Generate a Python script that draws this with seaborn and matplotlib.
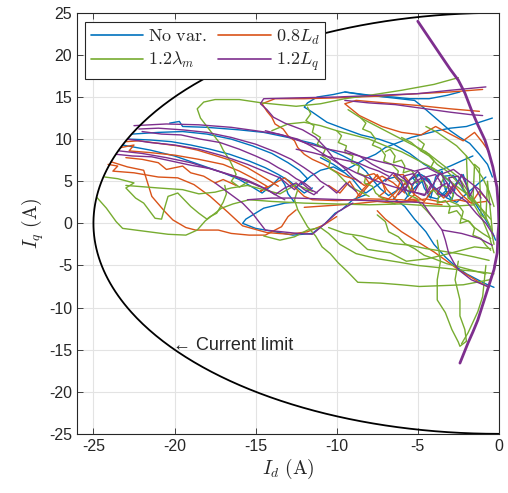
import numpy as np
import pandas as pd
import matplotlib
matplotlib.use("Agg")
import matplotlib.pyplot as plt
import seaborn as sns
from matplotlib.lines import Line2D

# current trajectories (Id, Iq) in A, one list per pass
novar_id = [
    [-22.6, -21.0, -19.5, -18.0, -16.5, -15.2, -14.0, -13.0, -12.3, -11.8, -12.2, -11.6, -11.0, -10.2, -9.5, -9.0, -8.5, -8.2, -7.6, -7.0, -6.4, -6.0, -5.5, -5.0, -4.5, -4.0, -3.5, -3.0, -2.5, -2.2, -1.8],
    [-20.3, -19.7, -19.5, -18.0, -16.0, -14.5, -13.0, -11.5, -10.5, -9.6, -8.8, -8.2, -7.8, -7.3, -6.8, -6.2, -5.6, -5.0, -4.4, -3.8, -3.2, -2.6, -2.0, -1.4, -0.8],
    [-23.2, -21.5, -20.0, -18.5, -17.0, -16.0, -15.2, -14.6, -14.0, -13.5, -13.2, -13.0, -12.6, -13.2, -14.5, -15.6, -15.8, -15.0, -14.4, -12.7, -11.5, -10.7, -10.1, -9.7, -9.0, -8.2],
    [-2.4, -3.2, -4.3, -5.5, -6.5, -7.5, -8.5, -9.5, -10.2, -11.2, -11.8, -12.0, -11.5, -10.6, -9.5, -8.5, -7.4, -6.5, -5.5, -4.6, -3.8, -3.0, -2.2, -1.6],
    [-9.5, -7.5, -5.2, -4.8, -4.2, -3.6, -3.0, -2.4, -1.8, -1.2, -0.7, -0.4],
    [-6.5, -5.8, -5.2, -4.5, -4.0, -3.3, -2.9, -2.6, -2.0, -1.4, -0.8, -0.3],
    [-6.0, -5.6, -5.2, -4.9, -4.6, -4.2, -3.9, -3.5, -3.3, -2.9, -2.6, -2.2, -1.8, -1.4, -1.0, -0.5, -0.2],
    [-11.0, -10.2, -9.6, -9.0, -8.3, -7.6, -7.0, -6.2, -5.4, -4.6, -3.8, -3.0, -2.0, -1.2, -0.4],
    [-22.8, -21.5, -20.2, -19.0, -17.8, -16.6, -15.4, -14.4, -13.6, -12.9, -12.4, -12.0, -11.5],
    [-5.8, -5.4, -5.0, -5.3, -4.8, -4.3, -4.0, -4.4, -3.8, -3.3, -3.0, -3.4, -2.8, -2.4],
]
novar_iq = [
    [10.6, 10.8, 10.9, 10.6, 10.0, 9.2, 8.3, 7.2, 6.3, 5.3, 4.6, 5.6, 6.3, 6.7, 6.0, 5.2, 4.0, 3.6, 4.4, 5.2, 5.5, 4.6, 3.6, 4.5, 5.4, 4.2, 3.2, 4.0, 5.0, 4.0, 3.0],
    [11.9, 12.1, 11.5, 11.4, 11.1, 10.8, 10.2, 9.5, 8.8, 8.0, 7.2, 6.2, 5.2, 4.1, 3.3, 4.0, 5.0, 5.8, 5.0, 4.0, 3.0, 2.5, 3.5, 4.5, 5.5],
    [9.3, 8.7, 8.0, 7.0, 6.0, 5.2, 4.3, 3.6, 4.5, 5.5, 4.6, 3.5, 2.5, 2.4, 1.8, 0.5, 0.0, -0.6, -0.8, -1.4, -1.2, 0.0, 1.2, 1.6, 2.8, 3.4],
    [15.6, 15.2, 14.8, 14.8, 15.0, 15.1, 15.3, 15.6, 15.3, 15.0, 14.3, 13.8, 13.2, 12.0, 11.2, 10.5, 10.0, 9.4, 8.3, 7.0, 6.2, 6.8, 7.5, 8.0],
    [15.6, 15.1, 14.6, 14.0, 13.0, 12.0, 11.0, 10.2, 9.5, 8.2, 7.0, 5.5],
    [3.0, 2.0, 0.5, -1.0, -2.5, -4.0, -4.7, -5.2, -6.0, -6.6, -7.2, -7.6],
    [4.5, 3.2, 5.0, 6.0, 4.2, 3.0, 5.5, 6.2, 4.0, 2.8, 4.8, 5.8, 3.6, 2.2, 1.0, -0.6, -2.0],
    [7.8, 7.0, 6.2, 6.8, 7.6, 8.2, 9.0, 9.6, 10.2, 10.6, 11.0, 11.3, 11.5, 12.0, 12.5],
    [10.0, 9.9, 9.7, 9.3, 8.8, 8.2, 7.4, 6.6, 5.8, 5.0, 4.2, 3.6, 4.2],
    [2.8, 3.8, 4.6, 5.4, 5.8, 5.2, 4.0, 3.2, 2.9, 3.8, 4.9, 5.6, 5.7, 4.6],
]

ld_id = [
    [-23.3, -22.5, -22.8, -21.5, -20.0, -18.5, -17.0, -16.0, -15.0, -14.3, -14.7, -13.8, -13.2, -12.6, -12.0, -11.5, -10.0, -8.0, -6.0, -4.5, -3.5],
    [-23.9, -22.9, -21.9, -21.4, -20.6, -20.1, -19.3, -18.7, -17.3, -16.5, -15.4, -14.4, -13.4, -13.0, -12.5],
    [-24.1, -23.5, -23.8, -22.5, -21.0, -19.8, -18.8, -17.8, -16.7, -15.8, -14.3, -12.9, -11.8, -10.8, -10.0],
    [-1.0, -3.0, -5.0, -7.5, -10.0, -12.0, -13.8, -14.6, -14.3, -14.0, -13.8, -13.3, -13.0, -12.6, -12.4, -12.0, -11.5, -10.8, -10.2, -9.5, -8.8, -8.3, -7.8, -7.2, -6.5, -5.8],
    [-1.2, -3.0, -5.0, -7.0, -8.8, -9.5, -8.6, -7.2, -6.0, -4.8, -3.9, -3.0, -2.2, -1.5, -1.0, -0.6],
    [-10.5, -9.8, -9.2, -8.6, -8.0, -7.5, -6.9, -6.4, -5.8, -5.2, -4.6, -4.0, -3.4, -2.8, -2.3, -1.7, -1.2, -0.7],
    [-7.5, -7.0, -6.0, -5.0, -4.0, -3.2, -2.5, -1.8, -1.2, -0.6],
    [-12.0, -10.5, -9.0, -7.5, -6.5, -5.5, -4.5, -3.5, -2.5, -1.6, -0.8],
    [-23.0, -22.0, -21.0, -20.5, -19.5, -19.0, -18.2, -17.5, -17.0, -16.2],
    [-23.0, -22.2, -21.0, -19.8, -18.6, -17.4, -16.4, -15.5, -14.8, -14.1, -13.6],
    [-8.8, -8.4, -8.0, -8.3, -7.7, -7.2, -7.0, -7.4, -6.8, -6.3, -6.1, -6.5, -5.9, -5.4, -5.2, -5.6, -5.0],
]
ld_iq = [
    [9.0, 9.3, 8.6, 8.4, 8.1, 7.6, 7.0, 6.2, 5.2, 4.4, 3.8, 4.8, 5.4, 4.3, 3.2, 2.8, 2.7, 2.9, 2.8, 2.4, 2.2],
    [7.3, 6.7, 6.3, 3.2, 1.4, 0.4, -0.5, -0.8, -0.8, -1.2, -1.4, -1.4, -0.4, 0.8, 1.6],
    [7.0, 6.8, 6.2, 6.0, 5.5, 5.4, 4.6, 3.2, 1.3, -0.3, -1.1, -1.3, -1.0, -0.2, 0.8],
    [15.9, 15.6, 15.4, 15.1, 14.9, 14.8, 14.8, 14.2, 13.3, 12.6, 11.8, 11.2, 10.4, 9.8, 9.0, 8.2, 7.6, 7.0, 6.3, 5.6, 5.2, 4.5, 5.0, 5.6, 4.8, 3.6],
    [13.3, 13.6, 14.0, 14.3, 14.6, 14.2, 12.8, 11.5, 10.8, 10.5, 11.5, 10.6, 9.8, 10.8, 9.6, 8.5],
    [4.5, 3.6, 5.0, 3.2, 4.6, 5.8, 4.0, 3.0, 4.8, 3.4, 2.6, 4.2, 3.0, 4.6, 3.4, 2.4, 3.8, 2.8],
    [1.5, 0.5, -1.0, -2.2, -3.4, -4.5, -5.5, -6.3, -7.0, -7.6],
    [1.9, 2.1, 2.3, 2.6, 2.4, 2.6, 2.9, 2.5, 2.8, 2.4, 2.6],
    [7.8, 7.6, 7.2, 6.4, 6.8, 6.0, 5.6, 4.8, 5.2, 4.5],
    [9.7, 9.8, 9.5, 9.2, 8.7, 8.0, 7.4, 6.6, 5.8, 5.0, 4.4],
    [3.0, 4.0, 4.8, 5.6, 5.9, 5.0, 3.8, 3.2, 2.9, 3.8, 4.9, 5.7, 5.8, 4.6, 3.4, 2.8, 2.9],
]

lam_id = [
    [-2.5, -4.0, -6.0, -8.0, -9.5, -11.0, -12.5, -14.6, -16.0, -17.5, -18.2, -18.6, -18.4, -18.0, -17.6, -17.2, -17.0, -16.6, -16.4, -16.2, -16.5, -16.0, -15.4, -14.8],
    [-24.3, -23.5, -22.5, -23.0, -22.4, -21.9, -21.2, -20.8, -20.6, -20.4, -19.8, -19.5, -19.0, -18.5, -18.0, -17.8, -17.4, -17.0, -16.8, -16.9],
    [-24.8, -24.2, -23.6, -23.2, -22.0, -20.4, -19.3, -18.6, -18.1, -17.1, -16.4, -15.4, -14.0, -12.0, -10.0, -8.0, -6.0, -4.5, -3.0, -1.5],
    [-12.4, -12.6, -12.4, -11.8, -11.3, -10.9, -10.4, -9.9, -9.3, -8.7, -7.3, -6.0, -4.9, -3.5, -2.2, -0.55, -0.2],
    [-9.0, -8.1, -6.7, -5.7, -4.4, -3.5, -2.5, -1.5, -0.5],
    [-3.8, -3.6, -3.8, -3.8, -3.3, -2.9, -2.5, -2.4, -2.0, -2.1, -2.4, -2.4, -2.7, -2.5],
    [-0.8, -1.0, -1.3, -1.9, -2.3],
    [-10.0, -9.7, -9.9, -9.4, -9.5, -9.0, -9.1, -8.6, -8.7, -8.2, -8.3, -7.8, -7.6, -7.2, -6.8, -6.4],
    [-9.3, -8.5, -7.5, -6.5, -5.5, -4.5, -3.5, -2.5, -1.8, -1.0, -0.5, -0.3],
    [-11.8, -11.6, -11.9, -11.4, -11.5, -11.0, -11.2, -10.7, -10.9, -10.4, -10.5, -10.0, -9.6, -9.2, -8.6, -8.0],
    [-23.0, -21.0, -19.5, -18.5, -17.5, -16.5, -15.5, -14.5, -13.5, -12.5, -11.5],
    [-7.0, -6.7, -6.4, -6.5, -6.0, -5.8, -5.9, -5.4, -5.1, -5.2, -4.7, -4.4, -4.5, -4.0, -3.7, -3.8, -3.3, -3.0, -3.1, -2.6, -2.3, -2.4, -1.9, -1.5, -1.0, -0.5],
    [-14.0, -13.0, -12.0, -11.0, -10.0, -9.0, -8.0, -7.0, -6.0, -5.0, -4.0, -3.0, -2.0, -1.2, -0.5],
    [-14.5, -13.5, -12.6, -11.8, -11.0, -10.5, -9.8, -8.8, -7.5, -6.2, -5.0, -4.0, -3.0, -2.0, -1.0, -0.3],
    [-6.0, -5.4, -4.8, -4.3, -3.8, -3.2, -2.7, -2.2, -1.8, -1.4, -1.0, -0.6, -0.3],
    [-4.5, -3.8, -3.2, -2.6, -2.0, -1.5, -1.0, -0.6, -0.3],
    [-8.5, -8.2, -8.4, -7.9, -7.6, -7.8, -7.3, -7.0, -7.1, -6.6, -6.2, -6.3, -5.8, -5.5, -5.6, -5.1, -4.8, -4.4, -4.0],
    [-5.0, -4.6, -4.8, -4.3, -4.0, -4.2, -3.7, -3.4, -3.6, -3.1, -2.8, -3.0, -2.5, -2.2, -2.3, -1.8, -1.5, -1.6, -1.1, -0.8, -0.5],
    [-2.0, -1.9, -1.6, -1.5, -1.2, -1.1, -0.8, -0.7, -0.4],
    [-10.5, -9.5, -8.5, -7.5, -6.5, -5.5, -4.5, -3.5, -2.5, -1.5, -0.6],
    [-7.5, -7.0, -6.8, -6.2, -5.8, -5.2, -4.6, -4.0, -3.2, -2.4, -1.6, -0.8],
]
lam_iq = [
    [17.3, 16.5, 15.8, 15.2, 14.8, 14.2, 13.9, 14.3, 14.7, 14.7, 14.4, 13.6, 12.5, 11.5, 10.5, 9.5, 8.7, 7.5, 6.7, 5.8, 5.0, 4.3, 5.0, 4.4],
    [5.5, 5.3, 4.8, 4.2, 3.0, 2.4, 0.6, 0.5, 1.9, 3.2, 3.6, 3.0, 2.0, 1.2, 0.5, 0.8, 1.2, 2.5, 3.5, 4.5],
    [3.1, 1.8, 0.2, -0.6, -0.9, -1.3, -1.4, -0.8, 0.3, 1.8, 2.3, 2.8, 2.6, 2.4, 2.3, 2.2, 2.3, 2.1, 2.0, 2.2],
    [4.0, 2.8, 1.6, -0.4, -1.5, -2.8, -3.6, -4.7, -5.8, -7.0, -7.1, -7.3, -7.5, -7.4, -7.3, -6.7, -5.0],
    [-1.5, -3.1, -3.5, -4.5, -4.2, -3.8, -3.3, -2.8, -3.0],
    [-2.0, -4.5, -6.7, -9.1, -10.6, -12.6, -14.1, -14.6, -14.0, -12.6, -11.0, -9.1, -6.7, -4.5],
    [-5.0, -8.7, -10.5, -13.0, -14.3],
    [11.0, 10.4, 9.6, 9.2, 8.4, 8.0, 7.2, 6.8, 6.0, 5.6, 4.8, 4.4, 3.6, 3.0, 2.6, 2.3],
    [13.5, 12.5, 11.5, 10.5, 9.5, 8.5, 7.0, 5.5, 3.5, 1.5, -0.5, -2.5],
    [13.8, 13.0, 12.2, 11.6, 10.8, 10.2, 9.4, 8.8, 8.0, 7.4, 6.6, 6.0, 5.2, 4.4, 3.8, 3.2],
    [4.5, 4.2, 4.0, 3.5, 3.7, 4.2, 4.5, 4.0, 3.5, 4.6, 3.8],
    [8.5, 8.8, 8.0, 7.2, 7.5, 6.8, 6.0, 6.3, 5.6, 4.8, 5.1, 4.4, 3.6, 3.9, 3.2, 2.4, 2.7, 2.0, 1.2, 1.5, 0.8, 0.0, 0.3, -0.5, -1.2, -1.8],
    [11.0, 11.8, 12.0, 11.6, 11.0, 10.5, 10.0, 9.2, 8.5, 7.5, 6.5, 5.0, 3.5, 2.0, 0.5],
    [-1.5, -2.0, -1.6, -0.8, -0.5, -1.2, -2.5, -3.6, -4.2, -4.6, -5.0, -5.2, -5.4, -5.6, -5.8, -6.0],
    [10.2, 9.6, 8.6, 8.0, 7.0, 6.2, 5.2, 4.2, 3.0, 1.8, 0.4, -1.5, -3.5],
    [11.5, 10.8, 10.0, 9.2, 8.0, 6.8, 5.4, 3.8, 2.0],
    [12.5, 11.9, 11.2, 10.8, 10.0, 9.3, 8.9, 8.1, 7.4, 7.0, 6.2, 5.4, 5.0, 4.2, 3.4, 3.0, 2.2, 1.4, 0.5],
    [10.0, 9.4, 8.6, 8.2, 7.4, 6.6, 6.2, 5.4, 4.6, 4.2, 3.4, 2.6, 2.2, 1.4, 0.6, 0.2, -0.6, -1.4, -1.8, -2.6, -3.2],
    [8.0, 3.0, 2.6, 7.0, 6.5, 1.0, 0.5, 5.0, -1.0],
    [-0.5, -1.2, -1.5, -2.0, -2.4, -2.6, -3.0, -3.3, -3.6, -4.0, -4.4],
    [1.0, 0.2, -1.0, -1.6, -2.4, -3.0, -3.8, -4.2, -4.8, -5.2, -5.6, -6.0],
]

lq_id = [
    [-22.2, -21.0, -19.5, -18.0, -16.5, -15.0, -13.8, -12.8, -12.0, -11.4, -11.0, -10.5, -10.0, -9.4, -8.8],
    [-23.4, -22.0, -20.5, -19.0, -17.5, -16.2, -15.0, -14.3, -13.8, -13.2, -12.5, -12.0, -11.4, -10.8],
    [-22.9, -21.5, -20.0, -18.5, -17.0, -15.5, -14.5, -13.5, -13.0, -12.6, -12.2, -11.8, -11.2],
    [-17.5, -15.8, -15.2, -14.4, -12.4, -11.5, -10.7, -9.9, -9.0],
    [-15.5, -14.0, -12.5, -11.0, -9.5, -8.0, -6.5, -5.0, -4.7, -4.2, -3.5, -2.3, -1.2, -0.4],
    [-3.5, -3.3, -3.1, -2.8, -2.5, -2.1, -1.7, -1.2, -0.7],
    [-0.8, -3.0, -5.0, -7.5, -10.0, -12.5, -14.5, -14.7, -14.3, -13.9, -13.2, -12.1, -11.3, -10.7, -10.1, -9.5, -9.0, -8.5],
    [-9.5, -8.0, -6.4, -4.5, -3.0, -1.7, -1.0],
    [-7.0, -6.5, -6.0, -5.8, -5.5, -5.0, -4.6, -4.4, -4.0, -3.6, -3.2, -3.0, -2.6, -2.3, -2.0, -1.8, -1.5, -1.1],
    [-9.5, -8.6, -7.8, -7.0, -6.2, -5.4, -4.6, -3.9, -3.2, -2.6, -2.0, -1.4, -0.8, -0.3],
    [-22.5, -20.5, -18.5, -16.5, -15.0, -13.6, -12.4, -11.6, -10.8, -9.8, -8.8, -7.8, -6.6, -5.5, -4.5],
    [-14.4, -13.2, -12.0, -10.5, -9.0, -7.5, -6.2, -5.2, -4.4, -3.6, -2.8, -2.0, -1.2, -0.5],
    [-22.0, -20.8, -19.6, -18.4, -17.2, -16.0, -15.0, -14.2, -13.6, -13.0, -12.5, -12.0, -11.6],
    [-23.6, -22.6, -21.4, -20.2, -19.0, -17.8, -16.6, -15.6, -14.8, -14.2, -13.6, -13.2],
    [-6.2, -5.6, -5.9, -5.3, -4.9, -5.2, -4.6, -4.2, -4.5, -3.9, -3.5, -3.8, -3.2, -2.8, -3.1, -2.5, -2.2],
    [-12.5, -11.5, -10.5, -9.5, -8.7, -8.0, -7.4, -6.8],
]
lq_iq = [
    [11.2, 11.3, 11.1, 10.8, 10.2, 9.4, 8.5, 7.6, 6.6, 5.8, 5.0, 4.4, 3.6, 4.8, 3.8],
    [8.6, 8.3, 7.8, 7.2, 6.3, 5.5, 4.6, 4.0, 3.4, 4.2, 4.8, 4.0, 3.4, 4.4],
    [10.0, 9.6, 9.3, 8.8, 8.0, 7.0, 6.2, 5.4, 4.6, 4.0, 4.9, 4.2, 3.6],
    [4.8, 2.4, 1.2, -0.8, -1.2, -1.3, 0.0, 1.4, 2.4],
    [2.8, 3.0, 3.0, 2.9, 2.8, 2.7, 2.6, 2.5, 2.4, 1.0, -0.8, -1.2, -1.8, -2.6],
    [-0.8, -2.0, -3.5, -4.6, -5.5, -6.1, -6.7, -7.1, -7.5],
    [16.2, 15.8, 15.4, 15.2, 15.0, 14.9, 14.8, 14.2, 13.5, 12.6, 11.9, 11.1, 10.2, 9.0, 7.5, 6.5, 5.5, 4.8],
    [14.6, 14.3, 14.1, 13.6, 13.2, 12.9, 12.8],
    [5.0, 6.0, 5.0, 3.8, 5.2, 6.2, 5.0, 3.6, 4.8, 6.0, 4.8, 3.5, 4.6, 5.8, 4.5, 3.2, 4.4, 3.0],
    [8.7, 8.0, 7.0, 6.2, 5.8, 4.6, 5.6, 4.0, 4.8, 3.4, 2.6, 1.2, 0.0, -1.5],
    [11.6, 11.8, 11.7, 11.4, 11.0, 10.6, 10.0, 9.2, 8.2, 7.0, 6.0, 5.2, 4.4, 3.8, 3.4],
    [11.0, 10.4, 9.6, 8.8, 8.2, 7.4, 6.8, 6.2, 6.6, 5.8, 6.4, 5.2, 4.0, 2.2],
    [10.9, 10.6, 10.5, 10.0, 9.6, 8.8, 8.0, 7.3, 6.6, 6.0, 5.3, 4.8, 4.2],
    [8.2, 8.0, 7.9, 7.4, 6.9, 6.5, 5.8, 5.2, 4.5, 3.9, 3.2, 2.8],
    [3.4, 4.6, 5.6, 5.9, 4.8, 3.7, 3.3, 4.5, 5.5, 5.8, 4.6, 3.5, 3.2, 4.4, 5.4, 5.6, 4.3],
    [8.8, 8.4, 7.9, 7.5, 7.2, 6.6, 6.2, 5.6],
]

# purple trace riding the voltage limit
vlim_id = [-5.0, -4.3, -3.6, -3.0, -2.5, -2.1, -1.7, -1.3, -0.86, -0.6, -0.37, -0.12, -0.03, 0.0, -0.06, -0.1, -0.3, -0.7, -1.0, -1.3, -1.6, -1.9, -2.15, -2.4]
vlim_iq = [24.0, 22.0, 20.0, 18.3, 17.0, 15.5, 13.5, 11.7, 9.9, 8.3, 6.7, 4.3, 2.0, 0.0, -1.5, -3.5, -5.5, -7.9, -9.7, -11.5, -12.9, -14.2, -15.4, -16.6]

limit_radius = 25
labels = [r"$\mathrm{No\ var.}$", r"$0.8L_d$", r"$1.2\lambda_m$", r"$1.2L_q$"]
colors = ["#0072BD", "#D95319", "#77AC30", "#7E2F8E"]

rows = []
for name, xs, ys in zip(labels, [novar_id, ld_id, lam_id, lq_id], [novar_iq, ld_iq, lam_iq, lq_iq]):
    for k, (sx, sy) in enumerate(zip(xs, ys)):
        for x, y in zip(sx, sy):
            rows.append((name, name + str(k), x, y))
df = pd.DataFrame(rows, columns=["series", "seg", "Id", "Iq"])

sns.set_style("ticks")
plt.rcParams["font.family"] = ["Liberation Sans", "DejaVu Sans"]
plt.rcParams["mathtext.fontset"] = "cm"
plt.rcParams["axes.unicode_minus"] = False

fig = plt.figure(figsize=(5.08, 4.93), dpi=100)
ax = fig.add_axes([0.152, 0.12, 0.83, 0.854])

sns.lineplot(data=df, x="Id", y="Iq", hue="series", units="seg", estimator=None,
             sort=False, palette=dict(zip(labels, colors)), linewidth=1.0,
             legend=False, ax=ax)
sns.lineplot(x=vlim_id, y=vlim_iq, sort=False, estimator=None, color=colors[3],
             linewidth=2.0, ax=ax)

th = np.linspace(np.pi / 2, 3 * np.pi / 2, 300)
ax.plot(limit_radius * np.cos(th), limit_radius * np.sin(th), color="black", lw=1.3)

ax.text(-20.1, -14.5, "\u2190 Current limit", fontsize=13, va="center", ha="left")

ax.set_xlim(-26, 0)
ax.set_ylim(-25, 25)
ax.set_xticks(np.arange(-25, 1, 5))
ax.set_yticks(np.arange(-25, 26, 5))
ax.grid(True, color="#e3e3e3", lw=0.8)
ax.set_axisbelow(True)
ax.tick_params(direction="in", top=True, right=True, labelsize=11.5, length=4, width=0.6, colors="#262626")
for s in ax.spines.values():
    s.set_color("#262626")
    s.set_linewidth(0.8)
ax.set_xlabel(r"$I_d\ \mathrm{(A)}$", fontsize=14, labelpad=2)
ax.set_ylabel(r"$I_q\ \mathrm{(A)}$", fontsize=14, labelpad=2)

# column-major fill: No var. / 1.2lambda in col 1, 0.8Ld / 1.2Lq in col 2
order = [0, 2, 1, 3]
handles = [Line2D([], [], color=colors[i], lw=1.2) for i in order]
leg = ax.legend(handles, [labels[i] for i in order], ncol=2, loc="upper left",
                bbox_to_anchor=(0.019, 0.978), fontsize=13, frameon=True, fancybox=False,
                framealpha=1, edgecolor="#262626", handlelength=2.9, handletextpad=0.3,
                columnspacing=0.6, borderpad=0.3, labelspacing=0.25, borderaxespad=0)
leg.get_frame().set_linewidth(0.8)

fig.savefig("out.png", dpi=100)
